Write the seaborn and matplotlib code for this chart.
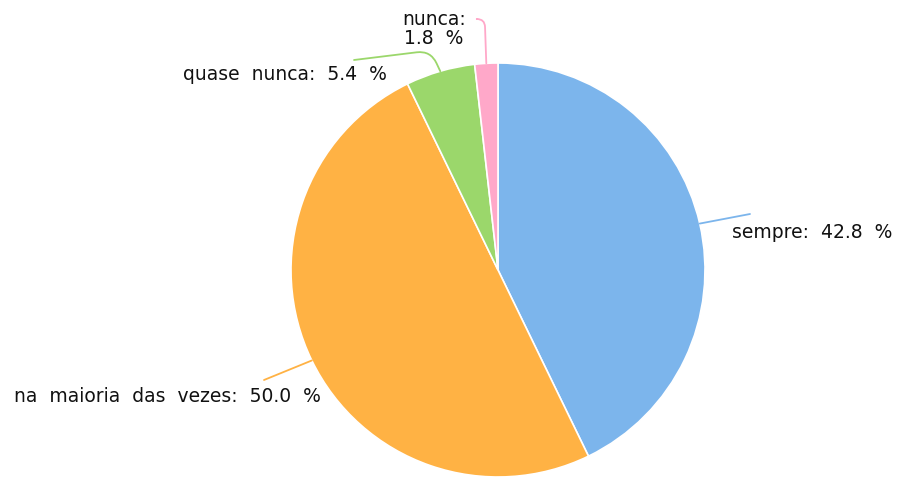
import numpy as np
import matplotlib
matplotlib.use("Agg")
import matplotlib.pyplot as plt
import seaborn as sns

categories = ["sempre", "na maioria das vezes", "quase nunca", "nunca"]
shares = [42.8, 50.0, 5.4, 1.8]
colors = ["#7cb5ec", "#ffb244", "#9bd76b", "#ffa8c9"]

sns.set_theme(style="white")
plt.rcParams['font.family'] = ['DejaVu Sans']

fig = plt.figure(figsize=(9.03, 4.80), dpi=100)
ax = fig.add_axes([0, 0, 1, 1])

cx, cy, r = 498, 210, 207
wedges, _ = ax.pie(shares, colors=colors, startangle=90, counterclock=False,
                   center=(cx, cy), radius=r, frame=True,
                   wedgeprops=dict(edgecolor="white", linewidth=1.2))
ax.set_xlim(0, 903)
ax.set_ylim(0, 480)
ax.set_aspect("equal")
ax.axis("off")

# label layout: (text x, text y, ha, connector end x, end y, connection style)
layout = [
    (732, 248, "left", 750, 266, "arc3,rad=0"),
    (14, 84, "left", 264, 100, "arc3,rad=0"),
    (183, 405, "left", 354, 420, "angle,angleA=7,angleB=115,rad=14"),
    (434, 451, "center", 477, 461, "angle,angleA=0,angleB=92,rad=8"),
]

for w, cat, val, col, (tx, ty, ha, lx, ly, cs) in zip(wedges, categories, shares, colors, layout):
    ang = np.deg2rad((w.theta1 + w.theta2) / 2)
    px, py = cx + r * np.cos(ang), cy + r * np.sin(ang)
    ax.annotate("", xy=(px, py), xytext=(lx, ly),
                arrowprops=dict(arrowstyle="-", color=col, lw=1.3,
                                connectionstyle=cs, shrinkA=0, shrinkB=0))
    name = cat.replace(" ", "  ")
    if cat == "nunca":
        txt = f"{name}:\n{val:.1f}  %"
    else:
        txt = f"{name}:  {val:.1f}  %"
    ax.text(tx, ty, txt, ha=ha, va="center", fontsize=13.5, color="#111111",
            linespacing=0.95)

fig.savefig("out.png", dpi=100, facecolor="white")
